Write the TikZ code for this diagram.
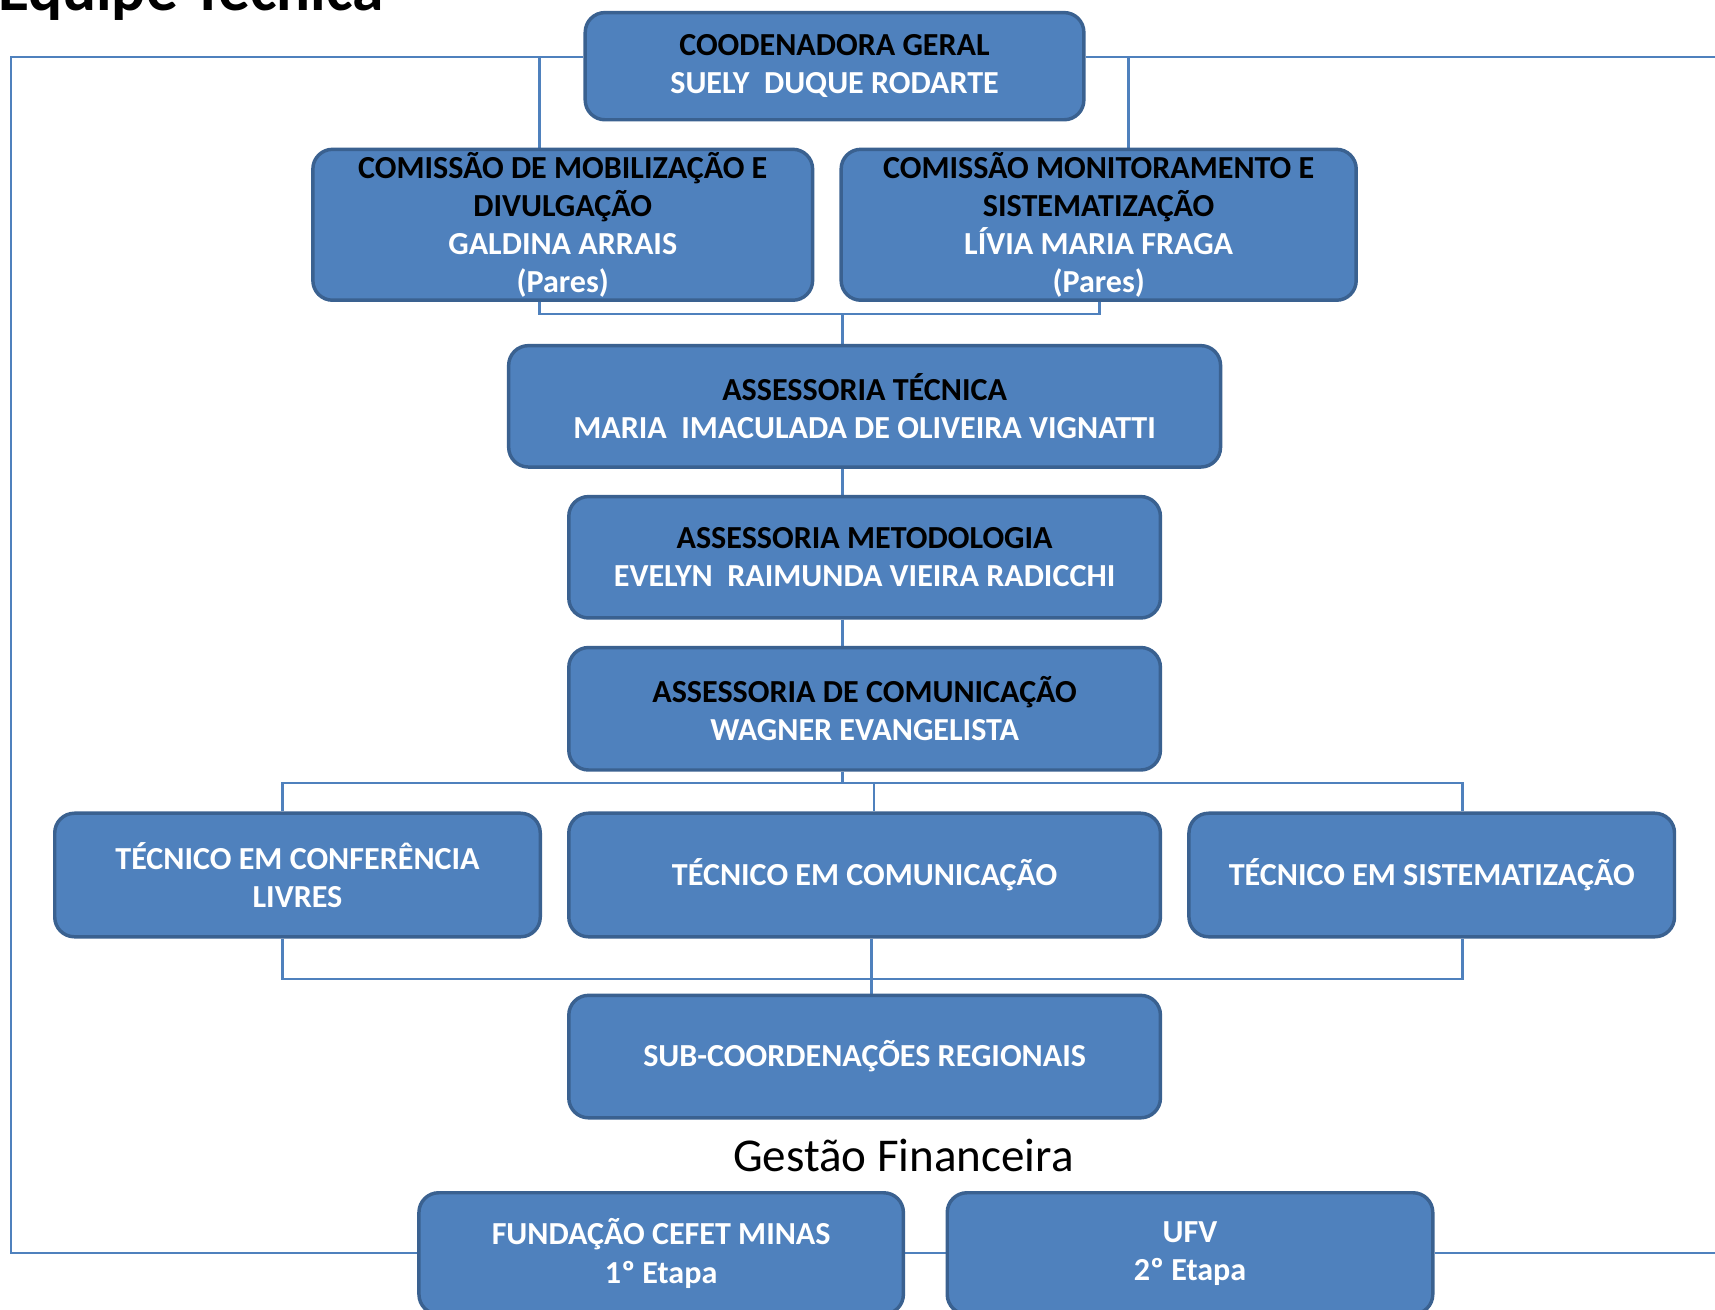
\documentclass[tikz,border=0pt]{standalone}
\usepackage{fontspec}
\setmainfont{Carlito}
\definecolor{boxfill}{HTML}{4F81BD}
\definecolor{boxline}{HTML}{3A6190}
\pgfdeclarelayer{bg}
\pgfsetlayers{bg,main}
\begin{document}
\begin{tikzpicture}[x=0.02cm,y=-0.02cm,
  box/.style={draw=boxline, line width=1.8pt, fill=boxfill, rounded corners=0.36cm,
    align=center, font=\fontsize{16.7}{19.9}\selectfont\bfseries, text=white, inner sep=0pt},
  conn/.style={draw=boxfill, line width=1.4pt}]
\useasboundingbox (0,0) rectangle (1568,1197);
\clip (0,0) rectangle (1568,1197);

\node[anchor=base west, inner sep=0pt, font=\fontsize{33}{38}\selectfont\bfseries] (title) at (-2,10) {Equipe Técnica};

\node[box, minimum width=9.12cm, minimum height=1.96cm] (coord) at (763,60.5)
  {{\color{black}COODENADORA GERAL}\\SUELY\ \ DUQUE RODARTE};
\node[box, minimum width=9.14cm, minimum height=2.76cm] (mob) at (514.5,205.5)
  {{\color{black}COMISSÃO DE MOBILIZAÇÃO E}\\{\color{black}DIVULGAÇÃO}\\GALDINA ARRAIS\\(Pares)};
\node[box, minimum width=9.42cm, minimum height=2.76cm] (mon) at (1004.5,205.5)
  {{\color{black}COMISSÃO MONITORAMENTO E}\\{\color{black}SISTEMATIZAÇÃO}\\LÍVIA MARIA FRAGA\\(Pares)};
\node[box, minimum width=13.02cm, minimum height=2.22cm] (ast) at (790.5,371.5)
  {{\color{black}ASSESSORIA TÉCNICA}\\MARIA\ \ IMACULADA DE OLIVEIRA VIGNATTI};
\node[box, minimum width=10.82cm, minimum height=2.22cm] (met) at (790.5,509.5)
  {{\color{black}ASSESSORIA METODOLOGIA}\\EVELYN\ \ RAIMUNDA VIEIRA RADICCHI};
\node[box, minimum width=10.82cm, minimum height=2.24cm] (com) at (790.5,648)
  {{\color{black}ASSESSORIA DE COMUNICAÇÃO}\\WAGNER EVANGELISTA};
\node[box, minimum width=8.88cm, minimum height=2.26cm] (tconf) at (272,800)
  {TÉCNICO EM CONFERÊNCIA\\LIVRES};
\node[box, minimum width=10.82cm, minimum height=2.26cm] (tcom) at (790.5,800)
  {TÉCNICO EM COMUNICAÇÃO};
\node[box, minimum width=8.88cm, minimum height=2.26cm] (tsis) at (1309,800)
  {TÉCNICO EM SISTEMATIZAÇÃO};
\node[box, minimum width=10.82cm, minimum height=2.24cm] (sub) at (790.5,966)
  {SUB-COORDENAÇÕES REGIONAIS};
\node[font=\fontsize{24.5}{29}\selectfont, inner sep=0pt] (gf) at (826,1056) {Gestão Financeira};
\node[box, minimum width=8.86cm, minimum height=2.22cm] (fund) at (604.5,1146)
  {FUNDAÇÃO CEFET MINAS\\1º Etapa};
\node[box, minimum width=8.88cm, minimum height=2.22cm] (ufv) at (1088,1146)
  {UFV\\2º Etapa};

\coordinate (tl) at (10,52);
\coordinate (bl) at (10,1145.5);
\coordinate (tr) at (1600,52);
\coordinate (br) at (1600,1145.5);
\coordinate (m1) at (493,52);
\coordinate (m2) at (1032,52);
\coordinate (b1) at (493,287);
\coordinate (b2) at (1005,287);
\coordinate (b3) at (770,287);
\coordinate (c0) at (770,716);
\coordinate (cl) at (258,716);
\coordinate (cr) at (1337,716);
\coordinate (cm) at (799,716);
\coordinate (dl) at (258,895);
\coordinate (dr) at (1337,895);
\coordinate (dm) at (797,895);

\begin{pgfonlayer}{bg}
\draw[conn] (coord.west |- tl) -- (tl) -- (bl) -- (fund.west |- bl);
\draw[conn] (coord.east |- tr) -- (tr);
\draw[conn] (fund.east |- bl) -- (ufv.west |- bl);
\draw[conn] (ufv.east |- br) -- (br);
\draw[conn] (m1) -- (m1 |- mob.north);
\draw[conn] (m2) -- (m2 |- mon.north);
\draw[conn] (b1 |- mob.south) -- (b1) -- (b2) -- (b2 |- mon.south);
\draw[conn] (b3) -- (b3 |- ast.north);
\draw[conn] (ast.south -| b3) -- (met.north -| b3);
\draw[conn] (met.south -| b3) -- (com.north -| b3);
\draw[conn] (com.south -| c0) -- (c0);
\draw[conn] (cl |- tconf.north) -- (cl) -- (cr) -- (cr |- tsis.north);
\draw[conn] (cm) -- (cm |- tcom.north);
\draw[conn] (dl |- tconf.south) -- (dl) -- (dr) -- (dr |- tsis.south);
\draw[conn] (tcom.south -| dm) -- (sub.north -| dm);
\end{pgfonlayer}
\end{tikzpicture}
\end{document}
